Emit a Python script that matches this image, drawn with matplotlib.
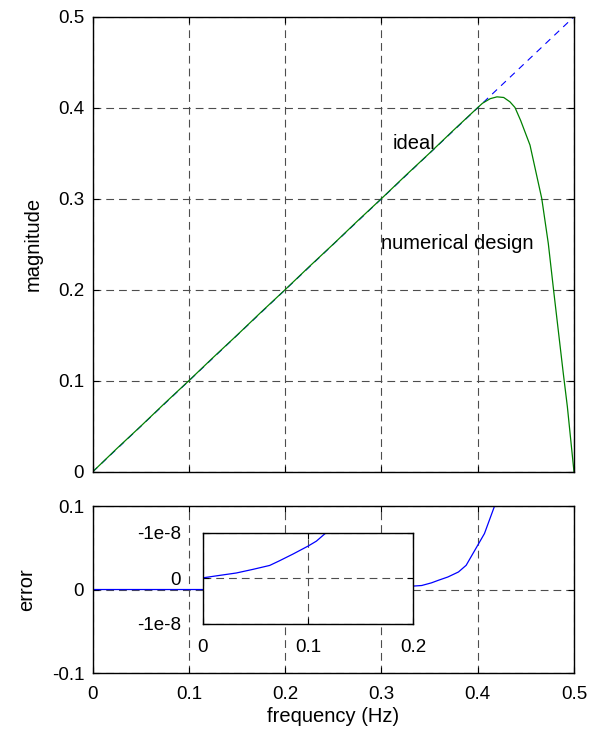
import matplotlib
matplotlib.use("Agg")
import matplotlib.pyplot as plt

plt.rcParams['font.family'] = ['Liberation Sans', 'DejaVu Sans']
tick_size = 13.5
label_size = 14.5

# ideal response: straight line across the band
ideal_f = [0.0, 0.5]
ideal_mag = [0.0, 0.5]

# designed filter magnitude
design_f = [0.0, 0.025, 0.05, 0.075, 0.10, 0.125, 0.15, 0.175, 0.20, 0.225, 0.25,
            0.275, 0.30, 0.325, 0.35, 0.375, 0.40, 0.405, 0.413, 0.42, 0.427,
            0.4335, 0.4387, 0.4446, 0.4543, 0.4665, 0.4733, 0.4792, 0.4889,
            0.4931, 0.5]
design_mag = [0.0, 0.0255, 0.0502, 0.0755, 0.1002, 0.1255, 0.1502, 0.1755, 0.2002,
              0.2255, 0.2502, 0.2755, 0.3002, 0.3255, 0.3502, 0.3755, 0.4002, 0.405,
              0.410, 0.412, 0.4113, 0.4065, 0.4003, 0.386, 0.359, 0.3004, 0.251,
              0.196, 0.108, 0.0717, 0.0]

# error over the whole band
err_f = [0.0, 0.115, 0.25, 0.3315, 0.3418, 0.352, 0.359, 0.369, 0.380, 0.388,
         0.397, 0.407, 0.4175]
err_val = [0.0, 0.0, 0.001, 0.004, 0.0048, 0.008, 0.011, 0.015, 0.021, 0.029,
           0.047, 0.067, 0.1]

# error in the low band (zoomed)
low_f = [0.0, 0.0127, 0.0317, 0.0476, 0.0635, 0.073, 0.0857, 0.1003, 0.108, 0.117]
low_err = [0.014e-8, 0.057e-8, 0.12e-8, 0.2e-8, 0.286e-8, 0.39e-8, 0.536e-8,
           0.714e-8, 0.82e-8, 1.0e-8]

grid_style = dict(color='0.3', linewidth=0.8, linestyle=(0, (7, 4.5)))


def style_axes(ax):
    for s in ax.spines.values():
        s.set_linewidth(1.0)
    ax.tick_params(direction='in', length=4, width=0.8, top=True, right=True,
                   labelsize=tick_size, pad=6)


fig = plt.figure(figsize=(6.02, 7.40), dpi=100)

# magnitude response
ax1 = fig.add_axes([0.1537, 0.3622, 0.7998, 0.6152])
ax1.plot(ideal_f, ideal_mag, color='#0000ff', linewidth=0.8, linestyle=(0, (6, 5)))
ax1.plot(design_f, design_mag, color='#008000', linewidth=0.9)
ax1.set_xlim(0, 0.5)
ax1.set_ylim(0, 0.5)
ax1.set_xticks([0, 0.1, 0.2, 0.3, 0.4, 0.5])
ax1.set_yticks([0, 0.1, 0.2, 0.3, 0.4, 0.5])
ax1.set_yticklabels(['0', '0.1', '0.2', '0.3', '0.4', '0.5'])
ax1.set_xticklabels([])
ax1.grid(True, **grid_style)
style_axes(ax1)
ax1.set_ylabel('magnitude', fontsize=label_size, labelpad=11)
ax1.text(0.312, 0.361, 'ideal', fontsize=label_size, va='center', ha='left')
ax1.text(0.300, 0.251, 'numerical design', fontsize=label_size, va='center', ha='left')

# error
ax2 = fig.add_axes([0.1537, 0.0905, 0.7998, 0.2257])
ax2.plot(err_f, err_val, color='#0000ff', linewidth=0.9)
ax2.set_xlim(0, 0.5)
ax2.set_ylim(-0.1, 0.1)
ax2.set_xticks([0, 0.1, 0.2, 0.3, 0.4, 0.5])
ax2.set_xticklabels(['0', '0.1', '0.2', '0.3', '0.4', '0.5'])
ax2.set_yticks([-0.1, 0, 0.1])
ax2.set_yticklabels(['-0.1', '0', '0.1'])
ax2.grid(True, **grid_style)
style_axes(ax2)
ax2.tick_params(axis='x', pad=9)
ax2.set_ylabel('error', fontsize=label_size, labelpad=11)
ax2.set_xlabel('frequency (Hz)', fontsize=label_size, labelpad=3)

# zoom on the low band
ax3 = fig.add_axes([0.3372, 0.1568, 0.3488, 0.1230])
ax3.set_facecolor('white')
ax3.plot(low_f, low_err, color='#0000ff', linewidth=0.9)
ax3.set_xlim(0, 0.2)
ax3.set_ylim(-1e-8, 1e-8)
ax3.set_xticks([0, 0.1, 0.2])
ax3.set_xticklabels(['0', '0.1', '0.2'])
ax3.set_yticks([-1e-8, 0, 1e-8])
ax3.set_yticklabels(['-1e-8', '0', '-1e-8'])
ax3.grid(True, **grid_style)
style_axes(ax3)
ax3.tick_params(axis='x', pad=11)
ax3.tick_params(axis='y', pad=16)

fig.savefig('out.png', dpi=100)
